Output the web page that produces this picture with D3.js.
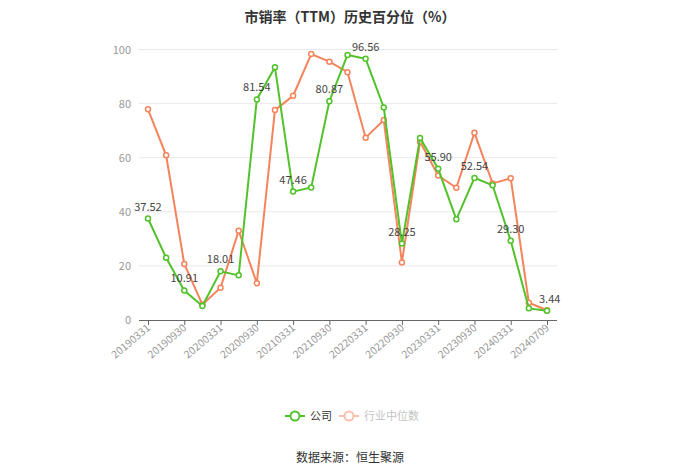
<!DOCTYPE html>
<html><head><meta charset="utf-8">
<script src="https://cdn.jsdelivr.net/npm/d3@7/dist/d3.min.js"></script>
<style>body{margin:0;background:#fff;}svg{display:block;font-family:"Noto Sans CJK SC","Noto Sans",sans-serif;}</style>
</head><body><svg id="c" width="700" height="473"></svg>
<script>
const dates = ["20190331","20190630","20190930","20191231","20200331","20200630","20200930","20201231","20210331","20210630","20210930","20211231","20220331","20220630","20220930","20221231","20230331","20230630","20230930","20231231","20240331","20240630","20240709"];
const company = [37.52,23.0,10.91,5.2,18.01,16.5,81.54,93.4,47.46,49.0,80.87,98.0,96.56,78.6,28.25,67.3,55.90,37.2,52.54,49.8,29.30,4.3,3.44];
const industry = [77.9,60.9,20.7,5.7,11.9,33.0,13.6,77.6,82.9,98.3,95.5,91.6,67.4,73.9,21.3,65.9,53.4,48.9,69.2,50.5,52.4,6.4,3.6];
const yTicks = [0,20,40,60,80,100];
const seriesNames = ["公司","行业中位数"];
const title = "市销率（TTM）历史百分位（%）";
const source = "数据来源：恒生聚源";

const svg = d3.select("#c");
const green = "#52c22b", orange = "#f5845c";
const x = d3.scalePoint().domain(dates).range([148, 547]);
const y = d3.scaleLinear().domain([0,100]).range([320, 49.5]);

svg.append("text").attr("x",350).attr("y",22).attr("text-anchor","middle")
  .attr("font-size",14).attr("font-weight","bold").attr("fill","#333").text(title);

// grid
svg.append("g").selectAll("line").data(yTicks.filter(d=>d>0)).join("line")
  .attr("x1",139).attr("x2",557).attr("y1",d=>y(d)).attr("y2",d=>y(d))
  .attr("stroke","#e8e8ee").attr("stroke-width",1);
svg.append("g").selectAll("text").data(yTicks).join("text")
  .attr("x",131).attr("y",d=>y(d)+4).attr("text-anchor","end")
  .attr("font-size",11).attr("fill","#999").text(d=>d);

// x axis
svg.append("line").attr("x1",139).attr("x2",557).attr("y1",320.5).attr("y2",320.5).attr("stroke","#666");
const labeled = dates.filter((d,i)=>i%2===0);
svg.append("g").selectAll("line").data(labeled).join("line")
  .attr("x1",d=>x(d)+0.5).attr("x2",d=>x(d)+0.5).attr("y1",320).attr("y2",325).attr("stroke","#666");
svg.append("g").selectAll("text").data(labeled).join("text")
  .attr("transform",d=>`translate(${x(d)+3},${329}) rotate(-40)`)
  .attr("text-anchor","end").attr("font-size",10.5).attr("fill","#999").text(d=>d);

function series(vals,color){
  const line = d3.line().x((d,i)=>x(dates[i])).y(d=>y(d));
  svg.append("path").attr("d",line(vals)).attr("fill","none").attr("stroke",color).attr("stroke-width",2);
  svg.append("g").selectAll("circle").data(vals).join("circle")
    .attr("cx",(d,i)=>x(dates[i])).attr("cy",d=>y(d)).attr("r",2.5)
    .attr("fill","#fff").attr("stroke",color).attr("stroke-width",1.5);
}
series(industry, orange);
series(company, green);

svg.append("g").selectAll("text").data(company.map((v,i)=>[i,v]).filter(d=>d[0]%2===0)).join("text")
  .attr("x",d=>x(dates[d[0]])+ (d[0]===dates.length-1?0:0)).attr("y",d=>y(d[1])-8)
  .attr("text-anchor",d=>d[0]===dates.length-1?"start":"middle")
  .attr("dx",d=>d[0]===dates.length-1?-8:0)
  .attr("font-size",11).attr("fill","#444").text(d=>d[1].toFixed(2));

// legend
const lg = svg.append("g");
const items = [{n:seriesNames[0],c:green,x:285,op:1},{n:seriesNames[1],c:orange,x:339,op:0.5}];
items.forEach(it=>{
  const g = lg.append("g").attr("opacity",it.op);
  g.append("line").attr("x1",it.x).attr("x2",it.x+20).attr("y1",416).attr("y2",416).attr("stroke",it.c).attr("stroke-width",2);
  g.append("circle").attr("cx",it.x+10).attr("cy",416).attr("r",4.5).attr("fill","#fff").attr("stroke",it.c).attr("stroke-width",2);
  g.append("text").attr("x",it.x+25).attr("y",420).attr("font-size",11).attr("fill",it.op<1?"#888":"#333").text(it.n);
});

svg.append("text").attr("x",350).attr("y",462).attr("text-anchor","middle").attr("font-size",12).attr("fill","#333").text(source);
</script></body></html>
